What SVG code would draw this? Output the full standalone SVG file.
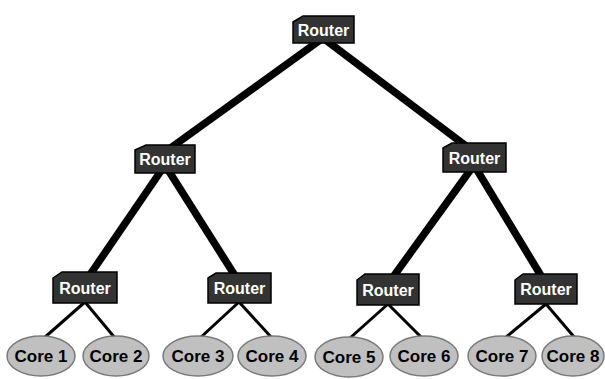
<svg xmlns="http://www.w3.org/2000/svg" width="605" height="379" viewBox="0 0 605 379">
<defs>
<style>
.thick{stroke:#000;stroke-width:7.5;stroke-linecap:butt;fill:none}
.thin{stroke:#000;stroke-width:3;fill:none}
.router path{fill:#333;stroke:#000;stroke-width:1.5}
.router text{fill:#fff;font-family:"Liberation Sans",Arial,sans-serif;font-weight:bold;font-size:16px;text-anchor:middle}
.core ellipse{fill:#c0c0c0;stroke:#7a7a7a;stroke-width:1.5}
.core text{fill:#000;font-family:"Liberation Sans",Arial,sans-serif;font-weight:bold;font-size:17px;text-anchor:middle}
</style>
</defs>
<rect width="605" height="379" fill="#fff"/>
<g id="connectors">
<line class="thick" x1="323" y1="38" x2="165" y2="152"/>
<line class="thick" x1="323" y1="38" x2="474" y2="152"/>
<line class="thick" x1="165" y1="165" x2="85" y2="282"/>
<line class="thick" x1="165" y1="165" x2="239" y2="282"/>
<line class="thick" x1="474" y1="165" x2="388" y2="284"/>
<line class="thick" x1="474" y1="165" x2="546" y2="284"/>
<line class="thin" x1="85" y1="302" x2="44" y2="338"/>
<line class="thin" x1="85" y1="302" x2="115" y2="338"/>
<line class="thin" x1="239" y1="302" x2="200" y2="338"/>
<line class="thin" x1="239" y1="302" x2="272" y2="338"/>
<line class="thin" x1="388" y1="304" x2="350" y2="338"/>
<line class="thin" x1="388" y1="304" x2="422" y2="338"/>
<line class="thin" x1="546" y1="304" x2="505" y2="338"/>
<line class="thin" x1="546" y1="304" x2="575" y2="338"/>
</g>
<g id="router-top" class="router">
<path d="M293,22 L303,16 L354,16 L354,43 L293,43 Z"/>
<text x="323.5" y="35.5">Router</text>
</g>
<g id="router-l" class="router">
<path d="M135,150 L146,145 L195,145 L195,173 L135,173 Z"/>
<text x="165" y="164.5">Router</text>
</g>
<g id="router-r" class="router">
<path d="M443,148 L452,143 L506,143 L506,172 L443,172 Z"/>
<text x="474.5" y="163.5">Router</text>
</g>
<g id="router-ll" class="router">
<path d="M53,278 L62,272 L117,272 L117,303 L53,303 Z"/>
<text x="85" y="293.5">Router</text>
</g>
<g id="router-lr" class="router">
<path d="M208,278 L216,273 L271,273 L271,303 L208,303 Z"/>
<text x="239.5" y="293.5">Router</text>
</g>
<g id="router-rl" class="router">
<path d="M357,280 L365,274 L419,274 L419,305 L357,305 Z"/>
<text x="388" y="295.5">Router</text>
</g>
<g id="router-rr" class="router">
<path d="M515,280 L523,274 L577,274 L577,304 L515,304 Z"/>
<text x="546" y="294.5">Router</text>
</g>
<g id="core1" class="core"><ellipse cx="41" cy="356" rx="34" ry="20"/><text x="41" y="362">Core 1</text></g>
<g id="core2" class="core"><ellipse cx="116" cy="356" rx="33" ry="20"/><text x="116" y="362">Core 2</text></g>
<g id="core3" class="core"><ellipse cx="198" cy="356" rx="35" ry="20"/><text x="198" y="362">Core 3</text></g>
<g id="core4" class="core"><ellipse cx="272" cy="356" rx="34" ry="20"/><text x="272" y="362">Core 4</text></g>
<g id="core5" class="core"><ellipse cx="349" cy="357" rx="34" ry="20"/><text x="349" y="363">Core 5</text></g>
<g id="core6" class="core"><ellipse cx="424" cy="356" rx="34" ry="20"/><text x="424" y="362">Core 6</text></g>
<g id="core7" class="core"><ellipse cx="502" cy="356" rx="34" ry="20"/><text x="502" y="362">Core 7</text></g>
<g id="core8" class="core"><ellipse cx="573" cy="356" rx="31" ry="20"/><text x="573" y="362">Core 8</text></g>
</svg>
